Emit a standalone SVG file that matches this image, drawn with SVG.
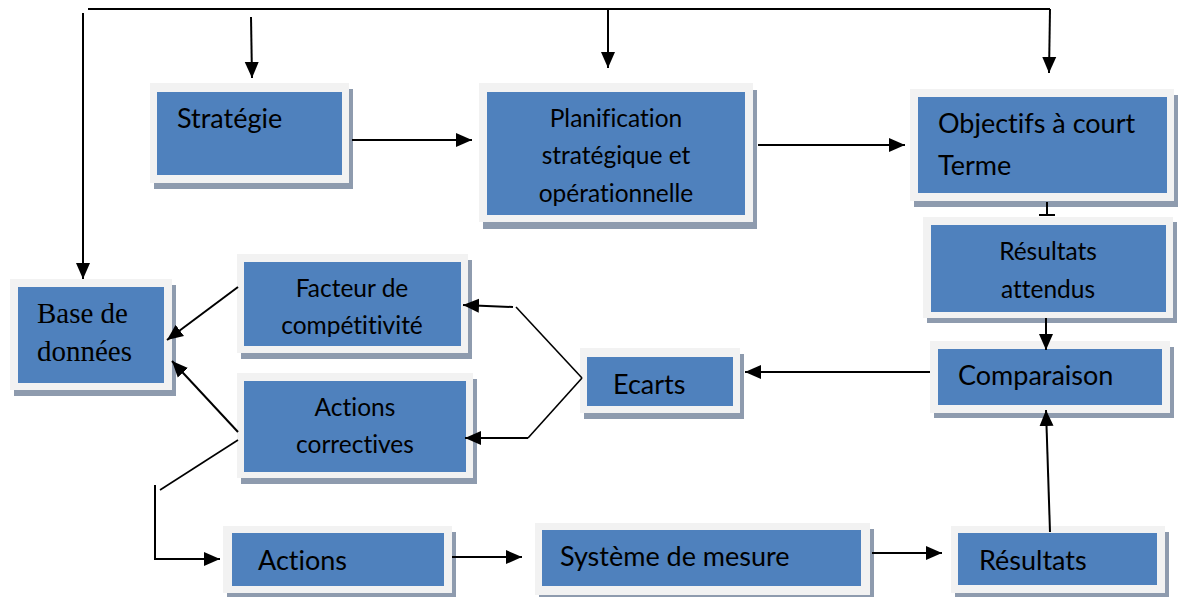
<svg xmlns="http://www.w3.org/2000/svg" width="1181" height="597" viewBox="0 0 1181 597">
<style>
.sh{fill:#8e9bae}
.fr{fill:#f2f2f2}
.bl{fill:#4f81bd}
.t{font-family:Lato,"Open Sans",sans-serif;fill:#000;font-variant-ligatures:none}
.lg{font-size:27px}
.sm{font-size:24.5px}
.c{text-anchor:middle}
.ser{font-family:"Liberation Serif",serif;font-size:29px;fill:#000}
.ln{fill:none;stroke:#000;stroke-width:2}
.thin{stroke-width:1.6}
</style>
<defs>
<marker id="ah" markerUnits="userSpaceOnUse" markerWidth="17" markerHeight="15" refX="16" refY="7" orient="auto" viewBox="0 0 17 14">
<path d="M0,0 L16,7 L0,14 z" fill="#000"/>
</marker>
<clipPath id="clipF"><rect x="244" y="262" width="217" height="75"/></clipPath>
</defs>
<rect width="1181" height="597" fill="#fff"/>
<g id="strategie">
<rect class="sh" x="154" y="89" width="199" height="100"/>
<rect class="fr" x="150" y="83" width="199" height="100"/>
<rect class="bl" x="157" y="92" width="185" height="83"/>
<text class="t lg" x="177" y="128">Stratégie</text>
</g>
<g id="planification">
<rect class="sh" x="483" y="90" width="274" height="139"/>
<rect class="fr" x="479" y="83" width="274" height="139"/>
<rect class="bl" x="487" y="92" width="258" height="123"/>
<text class="t sm c" x="616" y="127">Planification</text>
<text class="t sm c" x="616" y="164">stratégique et</text>
<text class="t sm c" x="616" y="202">opérationnelle</text>
</g>
<g id="objectifs">
<rect class="sh" x="914" y="95" width="264" height="112"/>
<rect class="fr" x="910" y="89" width="264" height="112"/>
<rect class="bl" x="918" y="97" width="249" height="96"/>
<text class="t lg" x="938" y="133">Objectifs à court</text>
<text class="t lg" x="938" y="175">Terme</text>
</g>
<g id="resultats-attendus">
<rect class="sh" x="927" y="222" width="250" height="101"/>
<rect class="fr" x="923" y="217" width="250" height="101"/>
<rect class="bl" x="931" y="225" width="235" height="87"/>
<text class="t sm c" x="1048" y="260">Résultats</text>
<text class="t sm c" x="1048" y="298">attendus</text>
</g>
<g id="base-de-donnees">
<rect class="sh" x="14" y="285" width="162" height="111"/>
<rect class="fr" x="10" y="279" width="162" height="111"/>
<rect class="bl" x="18" y="287" width="146" height="96"/>
<text class="ser" x="37" y="323">Base de</text>
<text class="ser" x="37" y="361">données</text>
</g>
<g id="facteur">
<rect class="sh" x="241" y="260" width="231" height="99"/>
<rect class="fr" x="237" y="254" width="231" height="99"/>
<rect class="bl" x="244" y="262" width="217" height="84"/>
<g clip-path="url(#clipF)">
<text class="t sm c" x="352" y="297">Facteur de</text>
<text class="t sm c" x="352" y="334">compétitivité</text>
</g>
</g>
<g id="actions-correctives">
<rect class="sh" x="241" y="379" width="236" height="105"/>
<rect class="fr" x="237" y="373" width="236" height="105"/>
<rect class="bl" x="244" y="381" width="222" height="91"/>
<text class="t sm c" x="355" y="416">Actions</text>
<text class="t sm c" x="355" y="453">correctives</text>
</g>
<g id="ecarts">
<rect class="sh" x="584" y="354" width="160" height="65"/>
<rect class="fr" x="580" y="348" width="160" height="65"/>
<rect class="bl" x="587" y="357" width="146" height="49"/>
<text class="t lg" x="613" y="394">Ecarts</text>
</g>
<g id="comparaison">
<rect class="sh" x="934" y="347" width="240" height="71"/>
<rect class="fr" x="930" y="341" width="240" height="72"/>
<rect class="bl" x="938" y="349" width="224" height="56"/>
<text class="t lg" x="958" y="385">Comparaison</text>
</g>
<g id="actions">
<rect class="sh" x="227" y="532" width="229" height="67"/>
<rect class="fr" x="223" y="526" width="229" height="67"/>
<rect class="bl" x="232" y="533" width="212" height="53"/>
<text class="t lg" x="258" y="570">Actions</text>
</g>
<g id="systeme-de-mesure">
<rect class="sh" x="539" y="529" width="335" height="72"/>
<rect class="fr" x="535" y="523" width="335" height="72"/>
<rect class="bl" x="542" y="530" width="319" height="56"/>
<text class="t lg" x="560" y="566">Système de mesure</text>
</g>
<g id="resultats">
<rect class="sh" x="955" y="532" width="214" height="67"/>
<rect class="fr" x="951" y="526" width="214" height="67"/>
<rect class="bl" x="958" y="533" width="199" height="52"/>
<text class="t lg" x="979" y="570">Résultats</text>
</g>
<g id="connectors">
<path class="ln" d="M88,9 H1050"/>
<path class="ln" d="M83,13 V279" marker-end="url(#ah)"/>
<path class="ln" d="M251,17 L252,78" marker-end="url(#ah)"/>
<path class="ln" d="M608,9 V68" marker-end="url(#ah)"/>
<path class="ln" d="M1050,9 L1049,73" marker-end="url(#ah)"/>
<path class="ln" d="M352,140 H472" marker-end="url(#ah)"/>
<path class="ln" d="M758,145 H905" marker-end="url(#ah)"/>
<path class="ln" d="M1047,202 V215 M1039,215 H1055"/>
<path class="ln" d="M1046,318 V350" marker-end="url(#ah)"/>
<path class="ln" d="M930,372 H745" marker-end="url(#ah)"/>
<path class="ln thin" d="M582,378 L516,307"/>
<path class="ln" d="M513,307 L463,305" marker-end="url(#ah)"/>
<path class="ln thin" d="M582,378 L528,438"/>
<path class="ln" d="M528,438 H465" marker-end="url(#ah)"/>
<path class="ln" d="M238,287 L167,340" marker-end="url(#ah)"/>
<path class="ln" d="M238,432 L172,361" marker-end="url(#ah)"/>
<path class="ln thin" d="M238,440 L160,490"/>
<path class="ln" d="M155,485 V559 H220" marker-end="url(#ah)"/>
<path class="ln" d="M452,557 H522" marker-end="url(#ah)"/>
<path class="ln" d="M872,553 H942" marker-end="url(#ah)"/>
<path class="ln" d="M1050,532 L1046,410" marker-end="url(#ah)"/>
</g>
</svg>
